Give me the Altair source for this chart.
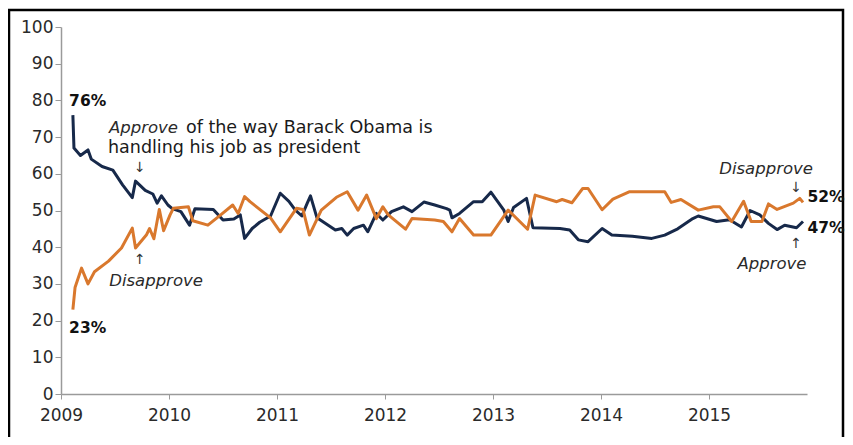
import altair as alt
import pandas as pd

# ---- data (decimal year, percent) ----
approve_year = [2009.11, 2009.12, 2009.18, 2009.25, 2009.28, 2009.38, 2009.48, 2009.57, 2009.66, 2009.69,
                2009.78, 2009.85, 2009.89, 2009.93, 2009.99, 2010.03, 2010.11, 2010.19, 2010.24, 2010.41,
                2010.50, 2010.60, 2010.66, 2010.70, 2010.77, 2010.84, 2010.94, 2011.03, 2011.11, 2011.17,
                2011.23, 2011.28, 2011.31, 2011.37, 2011.54, 2011.60, 2011.65, 2011.71, 2011.80, 2011.84,
                2011.92, 2011.98, 2012.06, 2012.17, 2012.25, 2012.36, 2012.46, 2012.57, 2012.60, 2012.62,
                2012.69, 2012.82, 2012.90, 2012.98, 2013.10, 2013.14, 2013.19, 2013.31, 2013.37, 2013.62,
                2013.71, 2013.79, 2013.88, 2014.01, 2014.10, 2014.29, 2014.47, 2014.59, 2014.71, 2014.85,
                2014.90, 2015.07, 2015.19, 2015.30, 2015.38, 2015.47, 2015.55, 2015.63, 2015.70, 2015.81,
                2015.87]
approve_pct = [76, 67, 65, 66.5, 64, 62, 61, 57, 53.5, 58,
               55.5, 54.5, 52, 54, 51.5, 50.5, 49.7, 46, 50.5, 50.3,
               47.4, 47.7, 48.8, 42.4, 45.1, 46.8, 48.5, 54.7, 52.5, 50.1,
               48.5, 52, 54, 48, 44.7, 45.1, 43.3, 45.1, 46, 44.2,
               49.2, 47.4, 49.7, 51, 49.7, 52.3, 51.5, 50.5, 50.1, 48,
               49.2, 52.4, 52.4, 55, 50.1, 47, 50.8, 53.3, 45.3, 45.1,
               44.7, 42, 41.5, 45.1, 43.3, 43, 42.4, 43.3, 45, 47.8,
               48.5, 47, 47.5, 45.5, 50, 48.8, 46.5, 44.8, 46, 45.3,
               47]

disapprove_year = [2009.11, 2009.13, 2009.19, 2009.25, 2009.31, 2009.44, 2009.56, 2009.66, 2009.69, 2009.79,
                   2009.82, 2009.86, 2009.91, 2009.95, 2010.01, 2010.04, 2010.18, 2010.22, 2010.36, 2010.47,
                   2010.59, 2010.64, 2010.70, 2010.75, 2010.94, 2011.03, 2011.18, 2011.24, 2011.30, 2011.41,
                   2011.55, 2011.65, 2011.75, 2011.83, 2011.92, 2011.98, 2012.03, 2012.19, 2012.25, 2012.46,
                   2012.54, 2012.62, 2012.69, 2012.82, 2012.98, 2013.14, 2013.32, 2013.39, 2013.59, 2013.64,
                   2013.73, 2013.83, 2013.88, 2014.01, 2014.11, 2014.26, 2014.59, 2014.65, 2014.74, 2014.90,
                   2015.04, 2015.10, 2015.21, 2015.32, 2015.39, 2015.49, 2015.55, 2015.63, 2015.78, 2015.84,
                   2015.87]
disapprove_pct = [23, 29, 34.3, 30, 33.3, 36.2, 39.8, 45.2, 39.8, 43.3,
                  45.1, 42.3, 50.3, 44.5, 48.8, 50.6, 51, 47.2, 46, 48.6,
                  51.5, 49.2, 53.8, 52.4, 48, 44.2, 50.6, 50.3, 43.3, 50.1,
                  53.6, 55.1, 50.1, 54.2, 47.8, 51, 48.8, 44.9, 47.8, 47.4,
                  47, 44.2, 47.8, 43.3, 43.3, 50.1, 44.9, 54.2, 52.4, 53,
                  52.1, 56, 56, 50.2, 53.1, 55.1, 55.1, 52.2, 53, 50.1,
                  51, 51, 47, 52.5, 47, 47, 51.8, 50.3, 52, 53.3,
                  52.2]

series_names = ["Approve", "Disapprove"]
series_colors = ["#17294a", "#d9782d"]

year_ticks = [2009, 2010, 2011, 2012, 2013, 2014, 2015]
pct_ticks = [0, 10, 20, 30, 40, 50, 60, 70, 80, 90, 100]

# annotations (text, x in years, y in percent)
bold_text = ["76%", "23%", "52%", "47%"]
bold_x = [2009.075, 2009.075, 2015.912, 2015.912]
bold_y = [79.8, 18.0, 53.7, 45.2]

italic_text = ["Approve", "Disapprove", "Disapprove", "Approve"]
italic_x = [2009.444, 2009.88, 2015.528, 2015.583]
italic_y = [72.5, 30.8, 61.2, 35.5]
italic_align = ["left", "center", "center", "center"]

regular_text = ["of the way Barack Obama is", "handling his job as president"]
regular_x = [2010.157, 2009.435]
regular_y = [72.5, 67.0]

arrow_text = ["\u2193", "\u2191", "\u2193", "\u2191"]
arrow_x = [2009.731, 2009.731, 2015.806, 2015.806]
arrow_y = [61.6, 36.6, 56.0, 41.0]

# ---- build tables ----
df = pd.concat([
    pd.DataFrame({"year": approve_year, "pct": approve_pct, "series": "Approve"}),
    pd.DataFrame({"year": disapprove_year, "pct": disapprove_pct, "series": "Disapprove"}),
])

xscale = alt.Scale(domain=[2009, 2015.907], nice=False, zero=False)
yscale = alt.Scale(domain=[0, 100], nice=False, zero=True)

FONT = "DejaVu Sans"

x_axis = alt.Axis(values=year_ticks, format="d", title=None, grid=False,
                  domainColor="#9a9a9a", domainWidth=1.5, tickColor="#9a9a9a",
                  tickSize=5, labelPadding=8, labelFontSize=17, labelFont=FONT,
                  labelColor="#2a2a2a", labelFlush=False, labelOverlap=False)
y_axis = alt.Axis(values=pct_ticks, tickCount=11, title=None, grid=False,
                  domainColor="#9a9a9a", domainWidth=1.5, tickColor="#9a9a9a",
                  tickSize=6, labelPadding=2, labelFontSize=17, labelFont=FONT,
                  labelColor="#2a2a2a", labelOverlap=False, labelFlush=False)


def X():
    return alt.X("year:Q", scale=xscale, axis=x_axis)


def Y():
    return alt.Y("pct:Q", scale=yscale, axis=y_axis)


lines = alt.Chart(df).mark_line(strokeWidth=3, strokeJoin="round", interpolate="linear").encode(
    x=X(), y=Y(),
    color=alt.Color("series:N", scale=alt.Scale(domain=series_names, range=series_colors), legend=None),
    detail="series:N",
    order=alt.Order("year:Q"),
)

bold_df = pd.DataFrame({"t": bold_text, "year": bold_x, "pct": bold_y})
italic_df = pd.DataFrame({"t": italic_text, "year": italic_x, "pct": italic_y, "al": italic_align})
reg_df = pd.DataFrame({"t": regular_text, "year": regular_x, "pct": regular_y})
arrow_df = pd.DataFrame({"t": arrow_text, "year": arrow_x, "pct": arrow_y})

bold_layer = alt.Chart(bold_df).mark_text(font=FONT, fontSize=15.5, fontWeight="bold", align="left",
                                           baseline="middle", color="#111111").encode(
    x=X(), y=Y(), text="t:N")

italic_left = alt.Chart(italic_df[italic_df.al == "left"]).mark_text(
    font=FONT, fontSize=16.5, fontStyle="italic", align="left", baseline="middle", color="#2a2a2a").encode(
    x=X(), y=Y(), text="t:N")
italic_center = alt.Chart(italic_df[italic_df.al == "center"]).mark_text(
    font=FONT, fontSize=16.5, fontStyle="italic", align="center", baseline="middle", color="#2a2a2a").encode(
    x=X(), y=Y(), text="t:N")

reg_layer = alt.Chart(reg_df).mark_text(font=FONT, fontSize=17.5, align="left", baseline="middle",
                                         color="#1a1a1a").encode(x=X(), y=Y(), text="t:N")

arrow_layer = alt.Chart(arrow_df).mark_text(font=FONT, fontSize=14, align="center",
                                             baseline="middle", color="#333333").encode(
    x=X(), y=Y(), text="t:N")

frame = alt.Chart(pd.DataFrame({"k": [0]})).mark_rect(filled=False, stroke="#000000", strokeWidth=2.5).encode(
    x=alt.value(-52), x2=alt.value(782), y=alt.value(-17), y2=alt.value(418))

chart = alt.layer(lines, frame, italic_left, italic_center, reg_layer, arrow_layer, bold_layer).properties(
    width=746, height=367,
    padding={"left": 53, "top": 19, "right": 38, "bottom": 43},
    autosize=alt.AutoSizeParams(type="none"),
    background="white",
).configure_view(stroke=None)

chart.save("out.html", embed_options={"renderer": "svg", "actions": False})
